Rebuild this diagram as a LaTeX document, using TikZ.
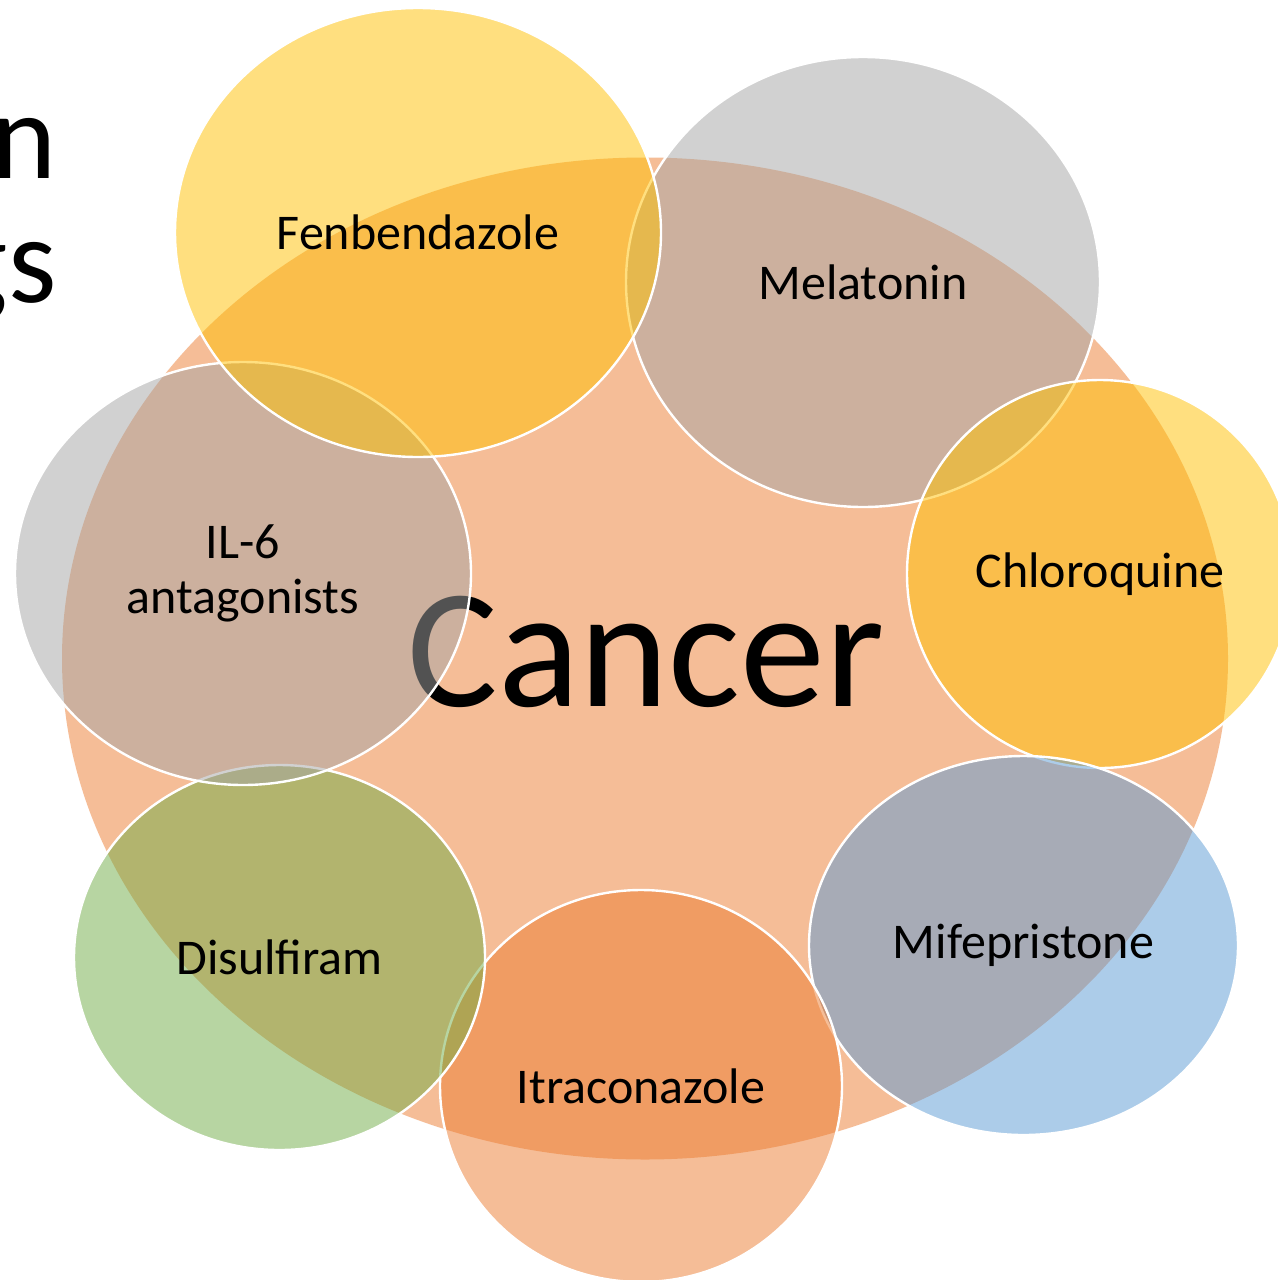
\documentclass[tikz,border=0pt]{standalone}
\usepackage{fontspec}
\setmainfont{Carlito}
\usetikzlibrary{shapes.geometric}
\definecolor{Gold}{HTML}{FFC000}
\definecolor{Silver}{HTML}{A5A5A5}
\definecolor{Tangerine}{HTML}{ED7D31}
\definecolor{Sky}{HTML}{5B9BD5}
\definecolor{Leaf}{HTML}{70AD47}
\begin{document}
\begin{tikzpicture}[x=0.5pt,y=-0.5pt,
 core/.style={ellipse,fill=Tangerine,fill opacity=0.5,draw=none,inner sep=0pt,outer sep=0pt},
 hub/.style={inner sep=0pt,font=\fontsize{85}{90}\selectfont},
 petal/.style={ellipse,draw=white,line width=1.2pt,fill opacity=0.5,text opacity=1,inner sep=0pt,outer sep=0pt,align=center,font=\fontsize{25}{27.5}\selectfont},
 title/.style={anchor=base east,inner sep=0pt,font=\fontsize{62}{70}\selectfont}]
 \fill[white](0,0)rectangle(1278,1280);
 \useasboundingbox(0,0)rectangle(1278,1280);
 \clip(0,0)rectangle(1278,1280);
 % slide title behind the diagram
 \node[title](titleA) at (57,178){n};
 \node[title](titleB) at (57,302){gs};
 % centre
 \node[core,minimum width=583pt,minimum height=501pt](big) at (645,658.5){};
 \node[hub](cancer) at (646,652){Cancer};
 % satellites
 \node[petal,fill=Silver,minimum width=237pt,minimum height=225pt](mel) at (863,282){Melatonin};
 \node[petal,fill=Gold,minimum width=193pt,minimum height=194pt](chl) at (1100,574){Chloroquine};
 \node[petal,fill=Sky,minimum width=214.5pt,minimum height=189.5pt](mif) at (1023.5,945.5){Mifepristone};
 \node[petal,fill=Tangerine,minimum width=201pt,minimum height=196pt](itr) at (641,1086){Itraconazole};
 \node[petal,fill=Leaf,minimum width=205.5pt,minimum height=192.5pt](dis) at (279.5,957.5){Disulfiram};
 \node[petal,fill=Silver,minimum width=228pt,minimum height=211.5pt](il6) at (243,573.5){IL-6\\antagonists};
 \node[petal,fill=Gold,minimum width=243pt,minimum height=224.5pt](fen) at (418,232.5){Fenbendazole};
\end{tikzpicture}
\end{document}
